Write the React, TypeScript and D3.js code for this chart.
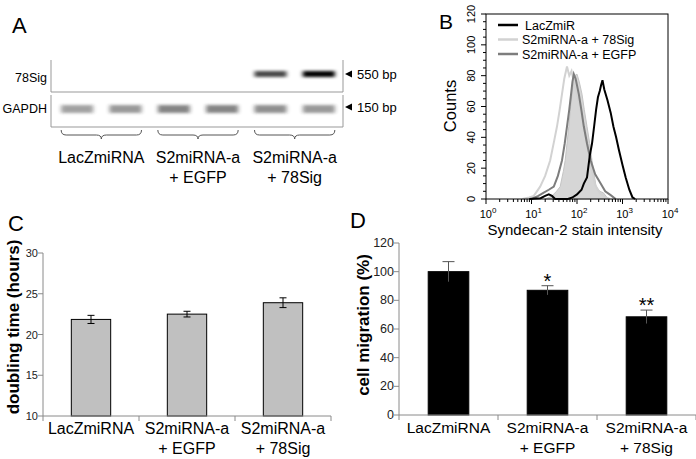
import * as d3 from "d3";

// ---- panel A: gel ----
const lanes = [0, 1, 2, 3, 4, 5];
const sigBand = [0, 0, 0, 0, 0.72, 1];
const gapdhBand = [0.42, 0.46, 0.55, 0.55, 0.5, 0.46];
const groupLines = [["LacZmiRNA"], ["S2miRNA-a", "+ EGFP"], ["S2miRNA-a", "+ 78Sig"]];

// ---- panel B: histograms (log10 intensity, counts) ----
const lacZ: [number, number][] = [
  [0.95, 0], [1.2, 0.5], [1.3, 2], [1.38, 3], [1.45, 2], [1.52, 0], [1.8, 0], [1.9, 1], [2.0, 3],
  [2.1, 6], [2.15, 10], [2.22, 14], [2.28, 28], [2.33, 36], [2.38, 48], [2.42, 58], [2.46, 66],
  [2.5, 70], [2.53, 74], [2.56, 77], [2.6, 71], [2.67, 64], [2.74, 56], [2.8, 47], [2.86, 40],
  [2.92, 32], [3.0, 22], [3.07, 14], [3.15, 6], [3.22, 1], [3.28, 0],
];
const sig78: [number, number][] = [
  [0.8, 0], [0.95, 1], [1.05, 2], [1.19, 8], [1.3, 15], [1.41, 25], [1.5, 38], [1.56, 47],
  [1.62, 58], [1.67, 68], [1.72, 78], [1.78, 86], [1.83, 80], [1.88, 83], [1.93, 76], [2.0, 68],
  [2.07, 60], [2.13, 50], [2.2, 40], [2.27, 28], [2.34, 17], [2.4, 9], [2.5, 4], [2.62, 1], [2.72, 0],
];
const egfp: [number, number][] = [
  [1.0, 0], [1.15, 2], [1.26, 4], [1.38, 6], [1.49, 8], [1.58, 15], [1.67, 25], [1.73, 36],
  [1.78, 47], [1.83, 58], [1.87, 68], [1.9, 76], [1.93, 81], [1.97, 78], [2.04, 68], [2.1, 57],
  [2.15, 47], [2.22, 36], [2.3, 25], [2.4, 16], [2.52, 10], [2.62, 5], [2.74, 2.5], [2.85, 0],
];
const filled: [number, number][] = [
  [1.3, 0], [1.45, 2], [1.55, 5], [1.63, 8], [1.7, 18], [1.74, 25], [1.78, 36], [1.82, 47],
  [1.86, 60], [1.89, 68], [1.92, 76], [1.95, 80], [2.0, 81], [2.05, 76], [2.11, 68], [2.16, 58],
  [2.22, 47], [2.28, 36], [2.33, 25], [2.38, 15], [2.42, 8], [2.5, 5], [2.58, 4], [2.66, 1], [2.72, 0],
];
const legendItems = [
  { name: "LacZmiR", color: "#000" },
  { name: "S2miRNA-a + 78Sig", color: "#d2d2d2" },
  { name: "S2miRNA-a + EGFP", color: "#7d7d7d" },
];
const countTicks = [0, 20, 40, 60, 80, 100, 120];
const decades = [0, 1, 2, 3, 4];

// ---- panel C: doubling time ----
const doubling = [21.85, 22.5, 23.9];
const doublingErr = [0.5, 0.35, 0.6];
const doublingTicks = [10, 15, 20, 25, 30];

// ---- panel D: migration ----
const migration = [100, 87, 68.5];
const migrationErr = [7, 3.2, 4.7];
const migrationStars = ["", "*", "**"];
const migrationTicks = [0, 20, 40, 60, 80, 100, 120];

const font = "'Liberation Sans', Arial, sans-serif";
const axisGray = "#8a8a8a";

function Gel() {
  const x = d3.scaleBand<number>().domain(lanes).range([53, 343]);
  const cx = (i: number) => (x(i) as number) + x.bandwidth() / 2;
  const bw = 32;
  const braces = [0, 2, 4].map((i) => {
    const x1 = cx(i) - 16, x2 = cx(i + 1) + 16, c = (x1 + x2) / 2, y0 = 130;
    return {
      c,
      d: `M${x1},${y0} Q${x1},${y0 + 5} ${x1 + 5},${y0 + 5} L${c - 5},${y0 + 5} Q${c},${y0 + 5} ${c},${y0 + 9} Q${c},${y0 + 5} ${c + 5},${y0 + 5} L${x2 - 5},${y0 + 5} Q${x2},${y0 + 5} ${x2},${y0}`,
    };
  });
  return (
    <g fontFamily={font}>
      <defs>
        <filter id="blur" x="-30%" y="-150%" width="160%" height="400%">
          <feGaussianBlur stdDeviation="2.2 1.4" />
        </filter>
      </defs>
      <text x={12} y={33} fontSize={22}>A</text>
      <path d="M51,60 V92 H343 V60" fill="none" stroke="#999" strokeWidth={1} />
      <path d="M51,95 V127 H343 V95" fill="none" stroke="#999" strokeWidth={1} />
      {lanes.map((l) =>
        sigBand[l] > 0 ? (
          <rect key={"s" + l} x={cx(l) - bw / 2} y={71} width={bw} height={6} fill="#000"
            opacity={sigBand[l]} filter="url(#blur)" />
        ) : null
      )}
      {lanes.map((l) => (
        <rect key={"g" + l} x={cx(l) - bw / 2} y={105} width={bw} height={8} fill="#222"
          opacity={gapdhBand[l]} filter="url(#blur)" />
      ))}
      <text x={47} y={82} fontSize={12.5} textAnchor="end">78Sig</text>
      <text x={47} y={113} fontSize={12.5} textAnchor="end">GAPDH</text>
      <path d="M345,74 L352,70.5 L352,77.5 Z" fill="#000" />
      <text x={357} y={78.5} fontSize={13}>550 bp</text>
      <path d="M345,107 L352,103.5 L352,110.5 Z" fill="#000" />
      <text x={357} y={111.5} fontSize={13}>150 bp</text>
      {braces.map((b, i) => (
        <g key={i}>
          <path d={b.d} fill="none" stroke="#555" strokeWidth={1} />
          {groupLines[i].map((t, j) => (
            <text key={j} x={b.c} y={163 + j * 20} fontSize={16} textAnchor="middle">{t}</text>
          ))}
        </g>
      ))}
    </g>
  );
}

function Histogram() {
  const x = d3.scaleLinear().domain([0, 4]).range([486, 668]);
  const y = d3.scaleLinear().domain([0, 120]).range([199, 14]);
  const line = d3.line<[number, number]>().x((d) => x(d[0])).y((d) => y(d[1]));
  const area = d3.area<[number, number]>().x((d) => x(d[0])).y0(y(0)).y1((d) => y(d[1]));
  const minorY = d3.range(0, 121, 5).filter((v) => v % 20 !== 0);
  const minorX: number[] = [];
  decades.slice(0, 4).forEach((k) => d3.range(2, 10).forEach((m) => minorX.push(k + Math.log10(m))));
  return (
    <g fontFamily={font}>
      <text x={439} y={29} fontSize={21}>B</text>
      <path d={area(filled) as string} fill="#d6d6d6" stroke="#c4c4c4" strokeWidth={1} />
      <path d={line(sig78) as string} fill="none" stroke="#d2d2d2" strokeWidth={2} />
      <path d={line(egfp) as string} fill="none" stroke="#7d7d7d" strokeWidth={2} />
      <path d={line(lacZ) as string} fill="none" stroke="#000" strokeWidth={2} />
      <rect x={486} y={14} width={182} height={185} fill="none" stroke="#000" strokeWidth={1} />
      {countTicks.map((t) => (
        <g key={t}>
          <line x1={481} x2={486} y1={y(t)} y2={y(t)} stroke="#000" />
          <text transform={`translate(475,${y(t)}) rotate(-90)`} fontSize={11} textAnchor="middle">{t}</text>
        </g>
      ))}
      {minorY.map((t) => (
        <line key={t} x1={483} x2={486} y1={y(t)} y2={y(t)} stroke="#000" />
      ))}
      {decades.map((k) => (
        <g key={k}>
          <line x1={x(k)} x2={x(k)} y1={199} y2={204} stroke="#000" />
          <text x={x(k) + 2} y={218} fontSize={11} textAnchor="middle">
            10<tspan dy={-5} fontSize={8}>{k}</tspan>
          </text>
        </g>
      ))}
      {minorX.map((v, i) => (
        <line key={i} x1={x(v)} x2={x(v)} y1={199} y2={202} stroke="#000" />
      ))}
      <text x={575} y={235} fontSize={15} textAnchor="middle">Syndecan-2 stain intensity</text>
      <text transform="translate(456,106) rotate(-90)" fontSize={16.5} textAnchor="middle">Counts</text>
      {legendItems.map((it, i) => (
        <g key={it.name}>
          <line x1={498} x2={518} y1={25 + i * 14.5} y2={25 + i * 14.5} stroke={it.color} strokeWidth={2.5} />
          <text x={i === 0 ? 525 : 522} y={29.5 + i * 14.5} fontSize={12.5}>{it.name}</text>
        </g>
      ))}
    </g>
  );
}

function BarPanel(props: {
  letter: string; lx: number; ly: number;
  values: number[]; errs: number[]; ticks: number[]; domain: [number, number];
  x0: number; x1: number; yTop: number; yBot: number;
  fill: string; label: string; labelX: number; labelY: number;
  tickFont: number; catFont: number; stars?: string[]; capW: number;
}) {
  const p = props;
  const x = d3.scaleBand<number>().domain([0, 1, 2]).range([p.x0, p.x1]).paddingInner(0.59).paddingOuter(0.295);
  const y = d3.scaleLinear().domain(p.domain).range([p.yBot, p.yTop]);
  const step = x.step();
  const start = p.x0;
  const errColor = p.fill === "#000" ? "#555" : "#000";
  return (
    <g fontFamily={font}>
      <text x={p.lx} y={p.ly} fontSize={22}>{p.letter}</text>
      <line x1={p.x0} x2={p.x0} y1={p.yTop} y2={p.yBot} stroke={axisGray} />
      {p.ticks.map((t) => (
        <g key={t}>
          <line x1={p.x0 - 5} x2={p.x0} y1={y(t)} y2={y(t)} stroke={axisGray} />
          <text x={p.x0 - 5} y={y(t) + 4} fontSize={p.tickFont} textAnchor="end" fill="#222">{t}</text>
        </g>
      ))}
      {p.values.map((v, i) => {
        const bx = x(i) as number;
        const c = bx + x.bandwidth() / 2;
        return (
          <g key={i}>
            <rect x={bx} y={y(v)} width={x.bandwidth()} height={p.yBot - y(v)} fill={p.fill} stroke="#000" strokeWidth={1} />
            <line x1={c} x2={c} y1={y(v + p.errs[i])} y2={y(v - p.errs[i])} stroke={errColor} />
            <line x1={c - p.capW / 2} x2={c + p.capW / 2} y1={y(v + p.errs[i])} y2={y(v + p.errs[i])} stroke={errColor} />
            {p.fill !== "#000" && (
              <line x1={c - p.capW / 2} x2={c + p.capW / 2} y1={y(v - p.errs[i])} y2={y(v - p.errs[i])} stroke="#000" />
            )}
            {p.stars && p.stars[i] && (
              <text x={c} y={y(v + p.errs[i]) + 2} fontSize={20} textAnchor="middle">{p.stars[i]}</text>
            )}
            {groupLines[i].map((t, j) => (
              <text key={j} x={c} y={p.yBot + 18 + j * 20} fontSize={p.catFont} textAnchor="middle">{t}</text>
            ))}
          </g>
        );
      })}
      <line x1={p.x0} x2={p.x1} y1={p.yBot} y2={p.yBot} stroke={axisGray} />
      {[0, 1, 2, 3].map((k) => (
        <line key={k} x1={start + k * step} x2={start + k * step} y1={p.yBot} y2={p.yBot + 5} stroke={axisGray} />
      ))}
      <text transform={`translate(${p.labelX},${p.labelY}) rotate(-90)`} fontSize={17} fontWeight="bold" textAnchor="middle">{p.label}</text>
    </g>
  );
}

export default function App() {
  return (
    <svg width={696} height={459} style={{ position: "absolute", left: 0, top: 0, background: "#fff" }}>
      <rect width={696} height={459} fill="#fff" />
      <Gel />
      <Histogram />
      <BarPanel letter="C" lx={8} ly={231} values={doubling} errs={doublingErr} ticks={doublingTicks}
        domain={[10, 30]} x0={43} x1={331} yTop={253} yBot={416} fill="#c0c0c0"
        label="doubling time (hours)" labelX={19} labelY={327} tickFont={11} catFont={16} capW={7} />
      <BarPanel letter="D" lx={350} ly={228} values={migration} errs={migrationErr} ticks={migrationTicks}
        domain={[0, 120]} x0={399} x1={696} yTop={243} yBot={415} fill="#000"
        label="cell migration (%)" labelX={369} labelY={325} tickFont={12.5} catFont={15.5}
        stars={migrationStars} capW={12} />
    </svg>
  );
}
